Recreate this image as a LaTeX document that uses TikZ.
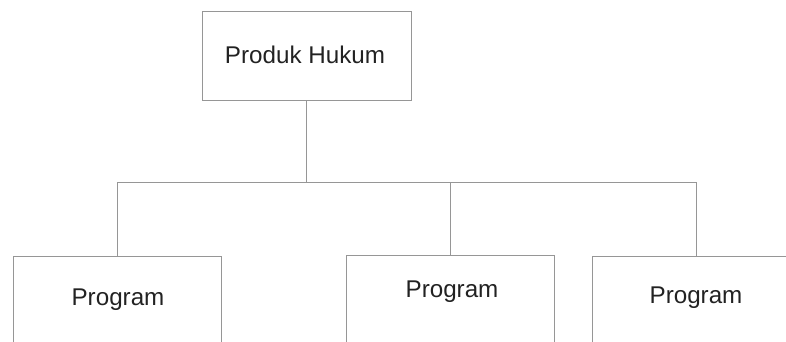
\documentclass[tikz,border=0pt]{standalone}
\usepackage{fontspec}
\setmainfont{Liberation Sans}
\usepackage{xcolor}
\usepackage{tikz}

\begin{document}
\begin{tikzpicture}[x=1pt,y=-1pt]
  \definecolor{bline}{RGB}{150,150,150}
  \definecolor{btext}{RGB}{34,34,34}
  \tikzset{
    box/.style={draw=bline,line width=0.9pt,inner sep=0pt,minimum width=208pt},
    lbl/.style={font=\fontsize{24.2}{29}\selectfont\color{btext},inner sep=0pt},
    link/.style={draw=bline,line width=0.8pt}
  }
  \useasboundingbox (0,0) rectangle (786,341);
  \clip (0,0) rectangle (786,341);
  \node[box,minimum width=209pt,minimum height=89pt] (hukum) at (306.5,55.5) {};
  \node[lbl] (hukumt) at (305,55) {Produk Hukum};
  \node[box,anchor=north,minimum height=120pt] (progA) at (117.5,256) {};
  \node[lbl] (progAt) at (118,300) {Program};
  \node[box,anchor=north,minimum height=120pt] (progB) at (450,255) {};
  \node[lbl] (progBt) at (452,292) {Program};
  \node[box,anchor=north,minimum height=120pt] (progC) at (696,256) {};
  \node[lbl] (progCt) at (696,298) {Program};
  \coordinate (bus) at (307,182);
  \draw[link] (hukum.south) -- (hukum.south |- bus);
  \draw[link] (progA.north) -- (progA.north |- bus) -- (progC.north |- bus) -- (progC.north);
  \draw[link] (progB.north) -- (progB.north |- bus);
\end{tikzpicture}
\end{document}
